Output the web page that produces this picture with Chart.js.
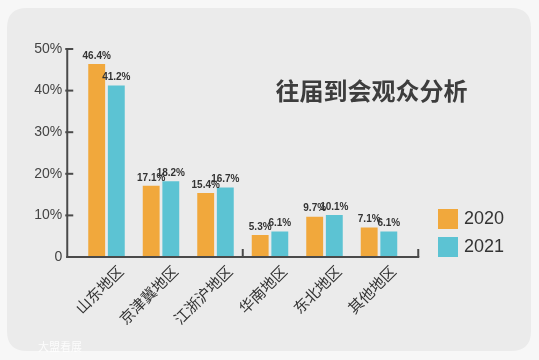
<!DOCTYPE html>
<html><head><meta charset="utf-8">
<script src="https://cdn.jsdelivr.net/npm/chart.js@4/dist/chart.umd.min.js"></script>
<style>html,body{margin:0;padding:0;background:#f7f7f7;overflow:hidden}#wrap{width:539px;height:360px;position:relative}</style>
</head><body><div id="wrap"><canvas id="c" width="539" height="360"></canvas></div>
<script>
const categories = ['山东地区','京津冀地区','江浙沪地区','华南地区','东北地区','其他地区'];
const seriesNames = ['2020','2021'];
const values2020 = [46.4,17.1,15.4,5.3,9.7,7.1];
const values2021 = [41.2,18.2,16.7,6.1,10.1,6.1];
const yTicks = [0,10,20,30,40,50];
const chartTitle = '往届到会观众分析';
const watermark = '大盟看展';

const ORANGE = '#F1A83C', CYAN = '#5CC3D3', AXIS = '#4a4a4a';
const CJK = '"Noto Sans CJK SC", "Noto Sans", sans-serif';
const LAT = '"Liberation Sans", Arial, sans-serif';

function roundRect(ctx,x,y,w,h,r){ctx.beginPath();ctx.moveTo(x+r,y);ctx.lineTo(x+w-r,y);ctx.quadraticCurveTo(x+w,y,x+w,y+r);ctx.lineTo(x+w,y+h-r);ctx.quadraticCurveTo(x+w,y+h,x+w-r,y+h);ctx.lineTo(x+r,y+h);ctx.quadraticCurveTo(x,y+h,x,y+h-r);ctx.lineTo(x,y+r);ctx.quadraticCurveTo(x,y,x+r,y);ctx.closePath();}

const bgPlugin = {
  id:'bg',
  beforeDraw(chart){
    const ctx = chart.ctx; ctx.save();
    ctx.fillStyle='#f7f7f7'; ctx.fillRect(0,0,chart.width,chart.height);
    ctx.fillStyle='#ebebeb'; roundRect(ctx,7,8,524,343,20); ctx.fill();
    ctx.restore();
  }
};

const decoPlugin = {
  id:'deco',
  afterDatasetsDraw(chart){
    const ctx = chart.ctx, ys = chart.scales.y, xs = chart.scales.x, ca = chart.chartArea;
    ctx.save();
    const axX = ca.left - 12, axEnd = ca.right + 12;
    ctx.strokeStyle = AXIS; ctx.lineWidth = 2; ctx.lineCap='butt';
    // y axis line
    ctx.beginPath(); ctx.moveTo(axX, ys.getPixelForValue(yTicks[yTicks.length-1])-1); ctx.lineTo(axX, ys.getPixelForValue(0)+1); ctx.stroke();
    // y ticks
    yTicks.forEach(v=>{ if(v===0) return; const p=ys.getPixelForValue(v); ctx.beginPath(); ctx.moveTo(axX-2,p); ctx.lineTo(axX+6,p); ctx.stroke(); });
    // x axis line
    const y0 = ys.getPixelForValue(0);
    ctx.beginPath(); ctx.moveTo(axX-1, y0); ctx.lineTo(axEnd+1, y0); ctx.stroke();
    // x ticks (half divider and end)
    const mid = (xs.getPixelForValue(2)+xs.getPixelForValue(3))/2;
    [mid, axEnd].forEach(px=>{ ctx.beginPath(); ctx.moveTo(px, y0); ctx.lineTo(px, y0-8); ctx.stroke(); });
    // data labels
    ctx.fillStyle='#333'; ctx.font='bold 10px '+LAT; ctx.textAlign='center'; ctx.textBaseline='bottom';
    chart.data.datasets.forEach((ds,i)=>{
      chart.getDatasetMeta(i).data.forEach((bar,j)=>{
        ctx.fillText(ds.data[j].toFixed(1)+'%', bar.x, bar.y-3);
      });
    });
    // title
    ctx.fillStyle='#3d3d3d'; ctx.font='bold 24px '+CJK; ctx.textAlign='center'; ctx.textBaseline='middle';
    ctx.fillText(chartTitle, 371.5, 91);
    // legend
    ctx.font='18px '+LAT; ctx.textAlign='left'; ctx.textBaseline='middle';
    chart.data.datasets.forEach((ds,i)=>{
      const top = 209 + i*28;
      ctx.fillStyle = ds.backgroundColor; ctx.fillRect(438, top, 20, 20);
      ctx.fillStyle = '#333'; ctx.fillText(ds.label, 464, top+10.5);
    });
    // watermark
    ctx.fillStyle='rgba(255,255,255,0.85)'; ctx.font='11px '+CJK; ctx.textBaseline='middle';
    ctx.fillText(watermark, 38, 347);
    ctx.restore();
  }
};

new Chart(document.getElementById('c'), {
  type:'bar',
  data:{
    labels: categories,
    datasets:[
      {label: seriesNames[0], data: values2020, backgroundColor: ORANGE},
      {label: seriesNames[1], data: values2021, backgroundColor: CYAN}
    ]
  },
  options:{
    responsive:false, animation:false, devicePixelRatio:1,
    categoryPercentage:0.72, barPercentage:0.86,
    layout:{padding:{left:0, top:49, right:539-406.25, bottom:0}},
    plugins:{legend:{display:false}, title:{display:false}, tooltip:{enabled:false}},
    scales:{
      x:{
        grid:{display:false, drawTicks:false}, border:{display:false},
        ticks:{color:'#333', font:{family:CJK, size:15}, minRotation:45, maxRotation:45, padding:5, labelOffset:14, autoSkip:false},
        afterFit(s){ s.height = 103; }
      },
      y:{
        min:0, max:50,
        grid:{display:false, drawTicks:false}, border:{display:false},
        afterBuildTicks(s){ s.ticks = yTicks.map(v=>({value:v})); },
        ticks:{color:'#444', font:{family:LAT, size:14}, padding:17, callback:v=> v===0 ? '0' : v+'%'},
        afterFit(s){ s.width = 79.25; }
      }
    }
  },
  plugins:[bgPlugin, decoPlugin]
});
</script></body></html>
